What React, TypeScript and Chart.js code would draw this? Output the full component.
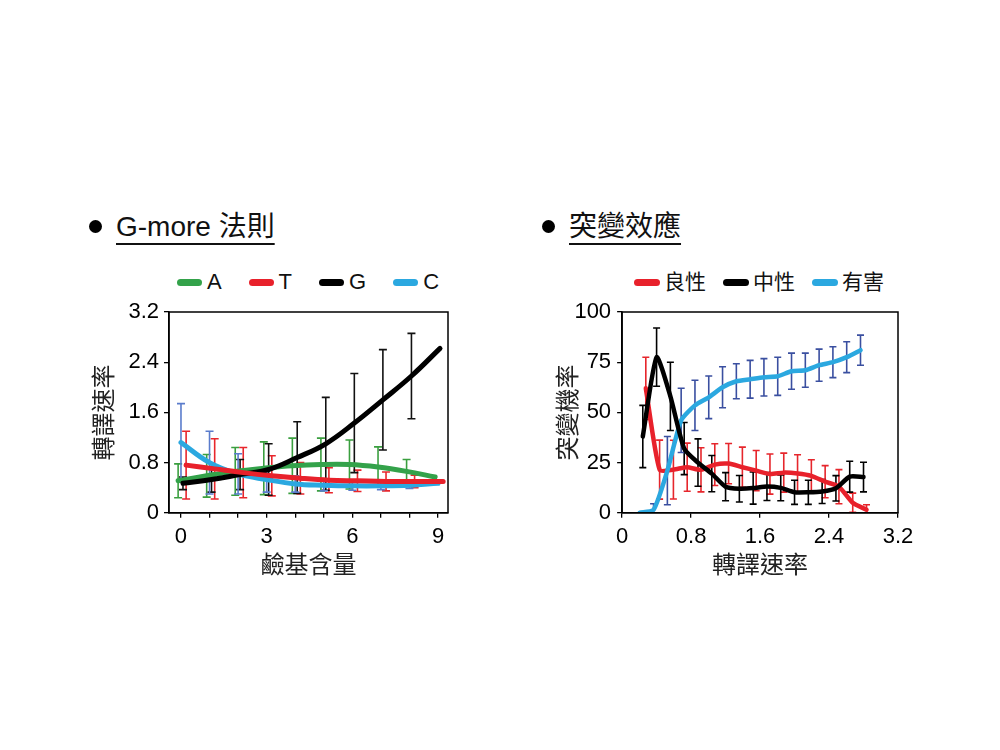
import React, { useEffect, useRef } from 'react';
import { Chart, registerables } from 'chart.js';

Chart.register(...registerables);

const LATIN = '"Liberation Sans", Arial, sans-serif';
const CJK = '"Noto Sans CJK TC", "Noto Sans CJK SC", sans-serif';
const MIXED = '"Liberation Sans", "Noto Sans CJK TC", sans-serif';

// ---------- Left chart: G-more rule ----------
const gcContent = [0, 1, 2, 3, 4, 5, 6, 7, 8, 9];
const gcTicks = [0, 1, 2, 3, 4, 5, 6, 7, 8, 9];
const gcTickLabels = ['0', '', '', '3', '', '', '6', '', '', '9'];
const rateTicks = [0, 0.8, 1.6, 2.4, 3.2];
const rateTickLabels = ['0', '0.8', '1.6', '2.4', '3.2'];
const baseNames = ['A', 'T', 'G', 'C'];
const baseShift = [-0.1, 0.18, 0.07, 0];

const rateA = [0.51, 0.59, 0.66, 0.71, 0.75, 0.77, 0.77, 0.73, 0.66, 0.57];
const errA = [0.27, 0.34, 0.38, 0.42, 0.44, 0.42, 0.39, 0.32, 0.19, 0];
const rateT = [0.76, 0.7, 0.64, 0.59, 0.55, 0.52, 0.51, 0.5, 0.5, 0.5];
const errT = [0.54, 0.48, 0.4, 0.32, 0.25, 0.2, 0.17, 0.15, 0.1, 0];
const rateG = [0.47, 0.53, 0.61, 0.69, 0.88, 1.1, 1.43, 1.8, 2.18, 2.62];
const errG = [0.1, 0.2, 0.24, 0.41, 0.57, 0.74, 0.79, 0.8, 0.68, 0];
const rateC = [1.12, 0.8, 0.62, 0.53, 0.46, 0.44, 0.43, 0.43, 0.44, 0.47];
const errC = [0.62, 0.5, 0.32, 0.2, 0.13, 0.09, 0.07, 0.06, 0.05, 0];

// ---------- Right chart: mutation effect ----------
const speedBins = [0.24, 0.4, 0.56, 0.72, 0.88, 1.04, 1.2, 1.36, 1.52, 1.68, 1.84, 2.0, 2.16, 2.32, 2.48, 2.64, 2.8];
const speedTicks = [0, 0.8, 1.6, 2.4, 3.2];
const speedTickLabels = ['0', '0.8', '1.6', '2.4', '3.2'];
const probTicks = [0, 25, 50, 75, 100];
const probTickLabels = ['0', '25', '50', '75', '100'];
const effectNames = ['良性', '中性', '有害'];
const effectShift = [0.035, 0, -0.035];

const probBenign = [62, 21.5, 21.5, 22.7, 21.4, 24, 24.5, 22.7, 21, 19.3, 20, 19.6, 18.4, 15.5, 13, 5, 1.5];
const errBenign = [15.5, 14.7, 14.6, 12, 11, 10.4, 10, 10, 10, 10, 9.7, 9.3, 8, 8, 8.5, 4.8, 2.5];
const probNeutral = [38, 77.5, 58, 32, 25, 19.5, 13, 12, 12.3, 13.1, 12.4, 10.2, 10.2, 10.6, 12.2, 18, 17.8];
const errNeutral = [15.5, 14.5, 17, 13, 11.8, 9, 7, 6.6, 8, 7, 6.4, 6, 6, 6, 6.3, 7.7, 7.4];
const probHarmful = [0, 1.5, 21, 46, 53.5, 57.5, 62.5, 65.5, 66.5, 67.5, 68, 70.5, 71, 73.5, 75, 77.5, 81];
const errHarmful = [0, 3, 17, 16, 12.5, 10.6, 10.2, 8.7, 9.4, 9.3, 9.5, 9, 8.5, 8, 7.7, 7.7, 7.5];

// ---------- styles ----------
const leftLineColors = ['#33a24a', '#e8212b', '#000000', '#2ba8e0'];
const leftBarColors = ['#3a9f3f', '#e8262c', '#111111', '#5a7ccc'];
const leftOrder = [2, 0, 1, 3];
const rightLineColors = ['#e8212b', '#000000', '#2ba8e0'];
const rightBarColors = ['#e6262c', '#000000', '#3a4fa0'];
const rightOrder = [2, 0, 1];

type ErrSet = { xs: number[]; ys: number[]; es: number[]; color: string };

function makeErrorBars(sets: ErrSet[], width: number, cap: number) {
  return {
    id: 'errorBars',
    beforeDatasetsDraw(chart: any) {
      const { ctx, chartArea, scales } = chart;
      const xs = scales.x;
      const ys = scales.y;
      ctx.save();
      ctx.beginPath();
      ctx.rect(chartArea.left, chartArea.top - 2, chartArea.right - chartArea.left, chartArea.bottom - chartArea.top + 2);
      ctx.clip();
      ctx.lineWidth = width;
      ctx.lineCap = 'butt';
      for (const s of sets) {
        ctx.strokeStyle = s.color;
        s.xs.forEach((xv, i) => {
          const e = s.es[i];
          if (!e) return;
          const px = xs.getPixelForValue(xv);
          const top = ys.getPixelForValue(s.ys[i] + e);
          const bot = ys.getPixelForValue(s.ys[i] - e);
          ctx.beginPath();
          ctx.moveTo(px, top);
          ctx.lineTo(px, bot);
          ctx.moveTo(px - cap, top);
          ctx.lineTo(px + cap, top);
          ctx.moveTo(px - cap, bot);
          ctx.lineTo(px + cap, bot);
          ctx.stroke();
        });
      }
      ctx.restore();
    },
  };
}

const framePlugin = {
  id: 'frame',
  afterDraw(chart: any) {
    const { ctx, chartArea: a } = chart;
    ctx.save();
    ctx.strokeStyle = '#000';
    ctx.lineWidth = 1.5;
    ctx.strokeRect(a.left, a.top, a.right - a.left, a.bottom - a.top);
    ctx.restore();
  },
};

function axis(
  min: number,
  max: number,
  ticks: number[],
  labels: string[],
  title: string,
  titlePad: { top: number; bottom: number },
  tickPad: number
) {
  return {
    type: 'linear',
    min,
    max,
    afterBuildTicks: (scale: any) => {
      scale.ticks = ticks.map((v) => ({ value: v }));
    },
    grid: {
      display: true,
      drawOnChartArea: false,
      drawTicks: true,
      tickLength: 5,
      color: '#000',
      lineWidth: 1.3,
    },
    border: { display: true, color: '#000', width: 1.5 },
    ticks: {
      font: { family: LATIN, size: 22 },
      color: '#000',
      padding: tickPad,
      autoSkip: false,
      maxRotation: 0,
      callback: (v: number) => {
        const idx = ticks.findIndex((t) => Math.abs(t - v) < 1e-6);
        return idx >= 0 ? labels[idx] : '';
      },
    },
    title: {
      display: true,
      text: title,
      font: { family: CJK, size: 24 },
      color: '#222',
      padding: titlePad,
    },
  };
}

function buildLeftConfig(): any {
  const vals = [rateA, rateT, rateG, rateC];
  const errs = [errA, errT, errG, errC];
  const datasets = baseNames.map((name, i) => ({
    label: name,
    data: gcContent.map((x, k) => ({ x: x + baseShift[i], y: vals[i][k] })),
    borderColor: leftLineColors[i],
    backgroundColor: leftLineColors[i],
    borderWidth: 5,
    pointRadius: 0,
    tension: 0.4,
    fill: false,
    borderCapStyle: 'round',
    borderJoinStyle: 'round',
    order: leftOrder[i],
  }));
  const sets: ErrSet[] = baseNames.map((_, i) => ({
    xs: gcContent.map((x) => x + baseShift[i]),
    ys: vals[i],
    es: errs[i],
    color: leftBarColors[i],
  }));
  return {
    type: 'line',
    data: { datasets },
    options: {
      animation: false,
      responsive: true,
      maintainAspectRatio: false,
      layout: { padding: { top: 22, right: 22, left: 0, bottom: 0 } },
      plugins: { legend: { display: false }, tooltip: { enabled: false } },
      scales: {
        x: axis(-0.42, 9.35, gcTicks, gcTickLabels, '鹼基含量', { top: -7, bottom: 4 }, 6),
        y: axis(0, 3.2, rateTicks, rateTickLabels, '轉譯速率', { top: 4.6, bottom: 6 }, 5),
      },
    },
    plugins: [makeErrorBars(sets, 1.6, 4), framePlugin],
  };
}

function buildRightConfig(): any {
  const vals = [probBenign, probNeutral, probHarmful];
  const errs = [errBenign, errNeutral, errHarmful];
  const datasets = effectNames.map((name, i) => ({
    label: name,
    data: speedBins.map((x, k) => ({ x: x + effectShift[i], y: vals[i][k] })),
    borderColor: rightLineColors[i],
    backgroundColor: rightLineColors[i],
    borderWidth: 4.5,
    pointRadius: 0,
    tension: 0.2,
    fill: false,
    borderCapStyle: 'round',
    borderJoinStyle: 'round',
    order: rightOrder[i],
  }));
  const sets: ErrSet[] = effectNames.map((_, i) => ({
    xs: speedBins.map((x) => x + effectShift[i]),
    ys: vals[i],
    es: errs[i],
    color: rightBarColors[i],
  }));
  return {
    type: 'line',
    data: { datasets },
    options: {
      animation: false,
      responsive: true,
      maintainAspectRatio: false,
      layout: { padding: { top: 22, right: 22, left: 0, bottom: 0 } },
      plugins: { legend: { display: false }, tooltip: { enabled: false } },
      scales: {
        x: axis(0, 3.2, speedTicks, speedTickLabels, '轉譯速率', { top: -7, bottom: 4 }, 6),
        y: axis(0, 100, probTicks, probTickLabels, '突變機率', { top: 4.6, bottom: -13 }, 6),
      },
    },
    plugins: [makeErrorBars(sets, 1.6, 3.5), framePlugin],
  };
}

function ChartBox({ build, style }: { build: () => any; style: React.CSSProperties }) {
  const ref = useRef<HTMLCanvasElement | null>(null);
  useEffect(() => {
    if (!ref.current) return;
    const chart = new Chart(ref.current, build());
    return () => chart.destroy();
  }, [build]);
  return (
    <div style={{ position: 'absolute', ...style }}>
      <canvas ref={ref} />
    </div>
  );
}

function Legend({
  names,
  colors,
  left,
  width,
  gap,
  boxW,
  textGap,
  font,
}: {
  names: string[];
  colors: string[];
  left: number;
  width: number;
  gap: number;
  boxW: number;
  textGap: number;
  font: string;
}) {
  return (
    <div
      style={{
        position: 'absolute',
        left,
        width,
        top: 270,
        height: 24,
        display: 'flex',
        justifyContent: 'center',
        alignItems: 'center',
        gap,
      }}
    >
      {names.map((n, i) => (
        <div key={n} style={{ display: 'flex', alignItems: 'center' }}>
          <span
            style={{
              display: 'inline-block',
              width: boxW,
              height: 7,
              borderRadius: 3.5,
              background: colors[i],
              marginRight: textGap,
            }}
          />
          <span style={{ font, lineHeight: '24px', color: '#111', whiteSpace: 'nowrap' }}>{n}</span>
        </div>
      ))}
    </div>
  );
}

function Heading({ text, bulletX, textX }: { text: string; bulletX: number; textX: number }) {
  return (
    <>
      <div
        style={{
          position: 'absolute',
          left: bulletX - 6.5,
          top: 219.5,
          width: 13,
          height: 13,
          borderRadius: '50%',
          background: '#000',
        }}
      />
      <div
        style={{
          position: 'absolute',
          left: textX,
          top: 213,
          fontFamily: MIXED,
          fontSize: 28,
          lineHeight: '28px',
          color: '#111',
          whiteSpace: 'nowrap',
          textDecoration: 'underline',
          textDecorationThickness: '2px',
          textUnderlineOffset: '6.5px',
        }}
      >
        {text}
      </div>
    </>
  );
}

export default function App() {
  return (
    <div
      style={{
        position: 'fixed',
        left: 0,
        top: 0,
        width: 1000,
        height: 750,
        background: '#fff',
        overflow: 'hidden',
      }}
    >
      <Heading text="G-more 法則" bulletX={95} textX={116} />
      <Heading text="突變效應" bulletX={548} textX={569} />
      <Legend
        names={baseNames}
        colors={leftLineColors}
        left={168}
        width={280}
        gap={27}
        boxW={25}
        textGap={5}
        font={`22px ${LATIN}`}
      />
      <Legend
        names={effectNames}
        colors={rightLineColors}
        left={620}
        width={278}
        gap={17}
        boxW={26}
        textGap={4}
        font={`21px ${MIXED}`}
      />
      <ChartBox build={buildLeftConfig} style={{ left: 84, top: 290, width: 386, height: 292 }} />
      <ChartBox build={buildRightConfig} style={{ left: 548, top: 290, width: 372, height: 292 }} />
    </div>
  );
}
